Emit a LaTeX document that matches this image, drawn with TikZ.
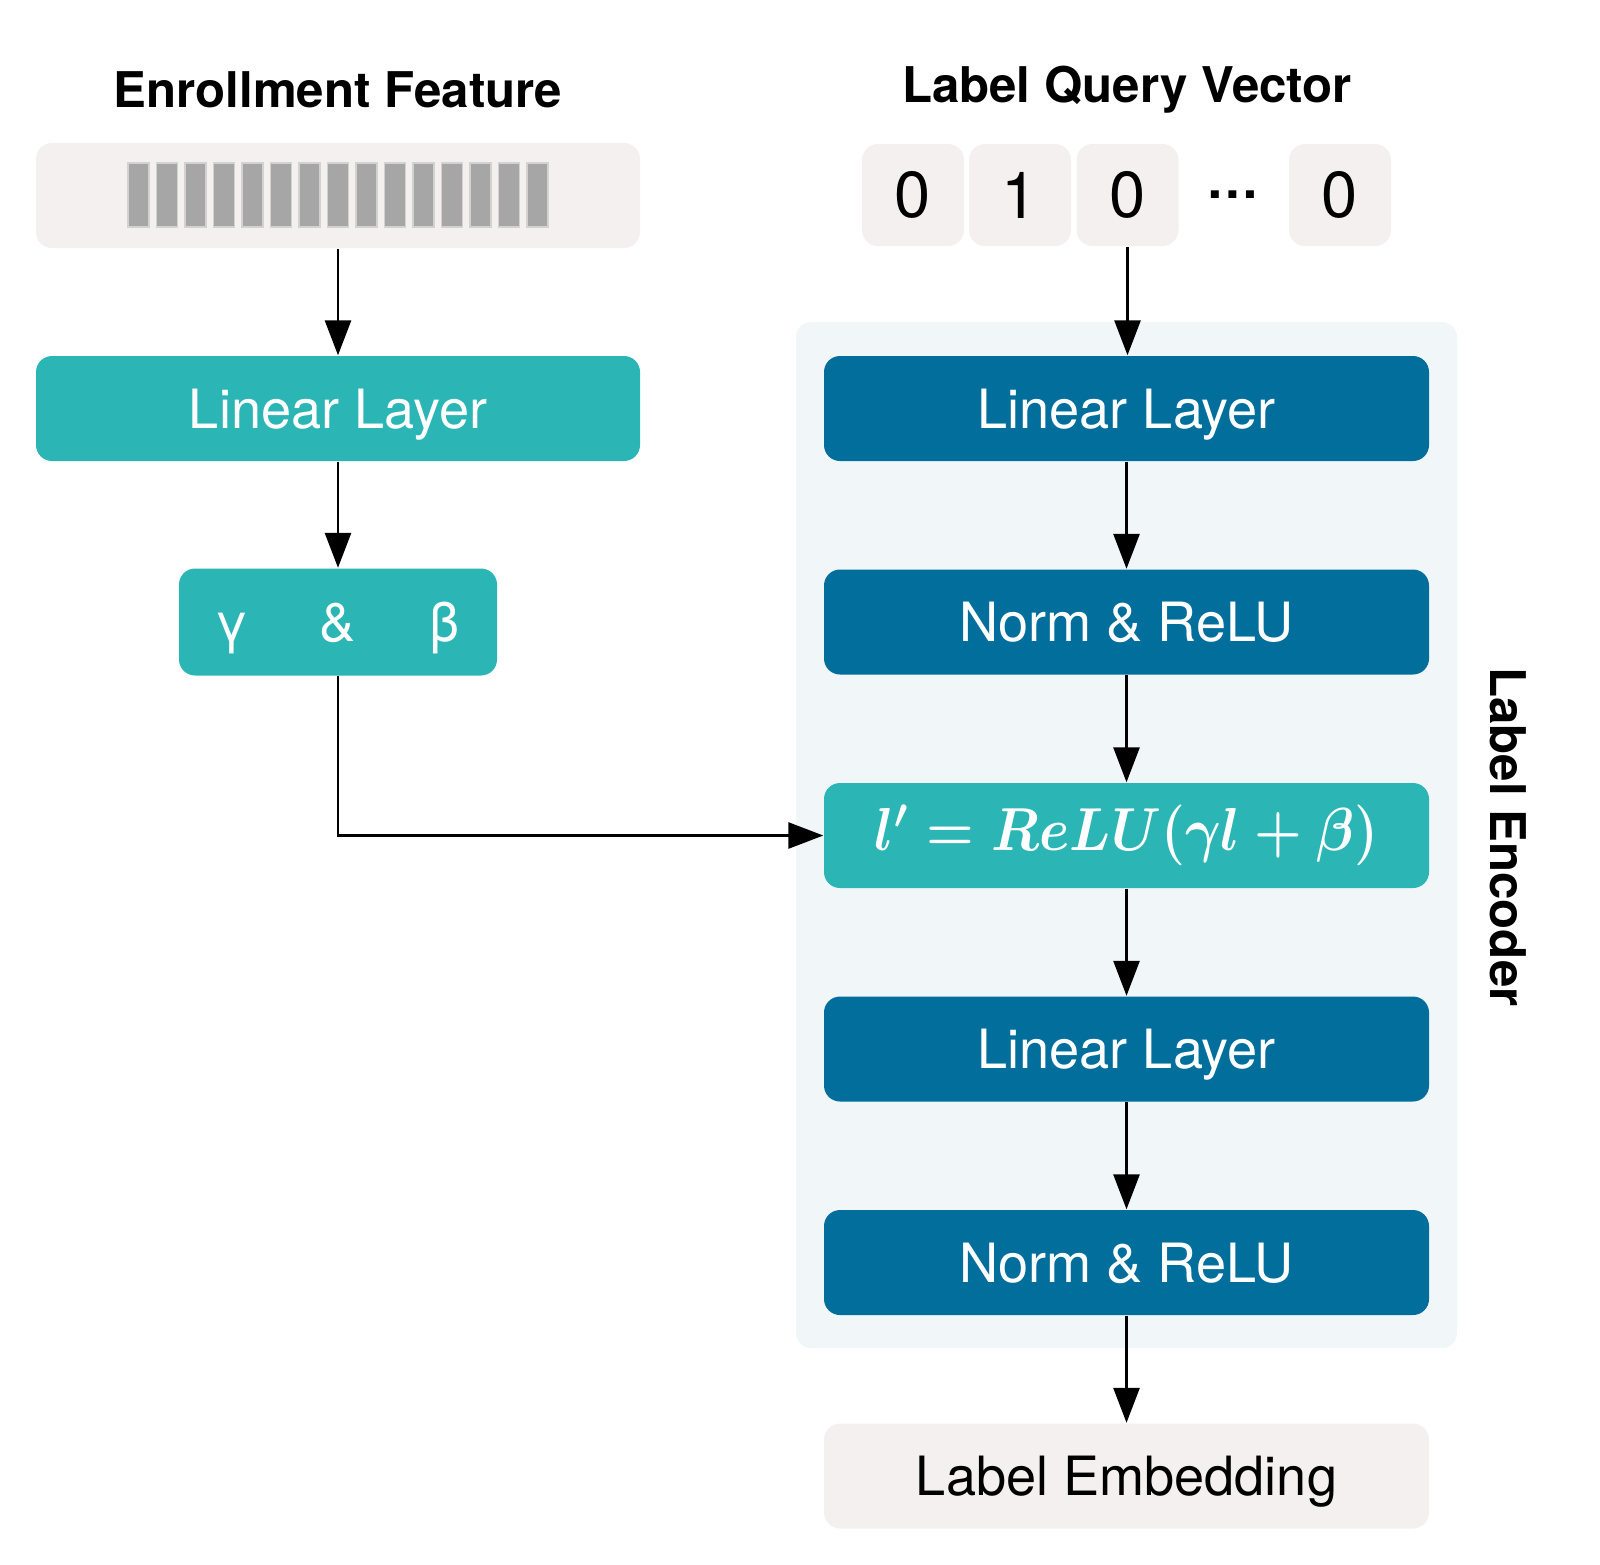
\documentclass[tikz,border=0pt]{standalone}
\usepackage{fontspec}
\usepackage{amsmath}
\setmainfont{TeX Gyre Heros}
\usetikzlibrary{arrows.meta,positioning,calc}
\definecolor{filmteal}{RGB}{43,181,181}
\definecolor{encblue}{RGB}{1,110,155}
\definecolor{palepink}{RGB}{245,240,240}
\definecolor{encback}{RGB}{241,246,249}
\definecolor{bargray}{RGB}{166,166,166}
\tikzset{box/.style={
            rounded corners=0.16cm,
            inner sep=0pt,
            minimum height=1.05cm,
            minimum width=6.05cm,
            text depth=0pt,
            text=white,
            font=\fontsize{15.4}{18}\selectfont
        },
        filmbox/.style={
            box,
            fill=filmteal
        },
        encbox/.style={
            box,
            fill=encblue
        },
        inbox/.style={
            box,
            fill=palepink,
            text=black
        },
        cellbox/.style={
            rounded corners=0.16cm,
            fill=palepink,
            inner sep=0pt,
            minimum size=1.02cm,
            font=\fontsize{18.5}{20}\selectfont
        },
        formula/.style={
            filmbox,
            text depth=,
            font=\fontsize{18.5}{22}\selectfont
        },
        title/.style={
            font=\bfseries\fontsize{14}{17}\selectfont
        },
        arr/.style={
            line width=0.8pt,
            -{Triangle[length=0.35cm,width=0.26cm]}
        }
    }

\begin{document}
\begin{tikzpicture}
        \useasboundingbox (0,0) rectangle (16,-15.64);
        % encoder background
        \fill[encback, rounded corners=0.15cm] (7.96,-3.22) rectangle (14.57,-13.48);
        \node[title, rotate=-90] (enctitle) at (15.08,-8.37) {Label Encoder};

        % left column
        \node[title] (enrolltitle) at (3.38,-0.90) {Enrollment Feature};
        \node[inbox, minimum width=6.04cm] (enroll) at (3.38,-1.955) {};
        \foreach \i in {0,...,14}
            \draw[fill=bargray, draw=bargray!50, line width=0.3pt] (1.28+\i*0.285,-1.63) rectangle ++(0.21,-0.64);
        \node[filmbox, minimum width=6.04cm] (linL) at (3.38,-4.085) {Linear Layer};
        \node[filmbox, minimum width=3.18cm, minimum height=1.07cm] (gb) at (3.38,-6.22)
            {\makebox[1.06cm]{γ}\makebox[1.06cm]{\&}\makebox[1.06cm]{β}};

        % right column
        \node[title] (querytitle) at (11.27,-0.90) {Label Query Vector};
        \node[cellbox] (q1) at (9.13,-1.95) {0};
        \node[cellbox] (q2) at (10.20,-1.95) {1};
        \node[cellbox] (q3) at (11.275,-1.95) {0};
        \node[cellbox, fill=none, font=\bfseries\fontsize{15}{18}\selectfont] (qdots) at (12.33,-1.95) {…};
        \node[cellbox] (qn) at (13.40,-1.95) {0};

        \node[encbox] (linR1) at (11.265,-4.085) {Linear Layer};
        \node[encbox] (norm1) at (11.265,-6.22) {Norm \& ReLU};
        \node[formula] (film) at (11.265,-8.355) {\scalebox{0.9}[1]{$\boldsymbol{l' = ReLU(\gamma l + \beta)}$}};
        \node[encbox] (linR2) at (11.265,-10.49) {Linear Layer};
        \node[encbox] (norm2) at (11.265,-12.625) {Norm \& ReLU};
        \node[inbox] (embed) at (11.265,-14.76) {Label Embedding};

        % connectors
        \draw[arr] (enroll) -- (linL);
        \draw[arr] (linL) -- (gb);
        \draw[arr] (gb.south) |- (film.west);
        \draw[arr] (q3.south) -- (q3.south |- linR1.north);
        \draw[arr] (linR1) -- (norm1);
        \draw[arr] (norm1) -- (film);
        \draw[arr] (film) -- (linR2);
        \draw[arr] (linR2) -- (norm2);
        \draw[arr] (norm2) -- (embed);
    \end{tikzpicture}
\end{document}
